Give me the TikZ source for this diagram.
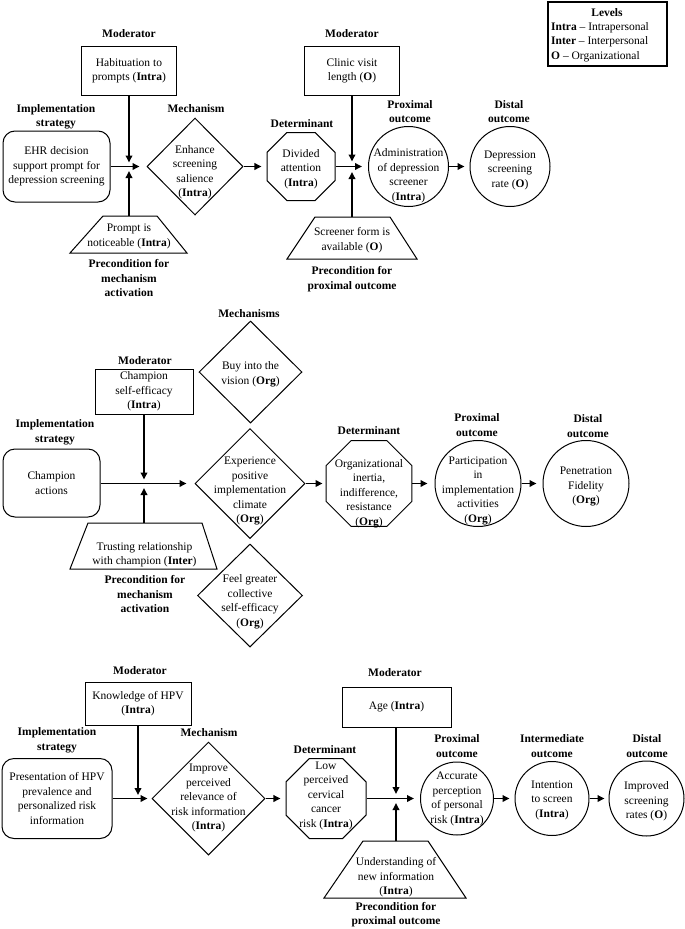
\documentclass[tikz,border=0pt]{standalone}
\usepackage{fontspec}
\setmainfont{Liberation Serif}
\usetikzlibrary{arrows.meta,shapes.geometric}
\begin{document}
\begin{tikzpicture}[x=1pt,y=-1pt,
  every node/.style={font=\fontsize{11.5}{14.5}\selectfont},
  lbl/.style={font=\fontsize{11.5}{14.5}\selectfont\bfseries,align=center,inner sep=0pt},
  txt/.style={align=center,inner sep=0pt},
  shp/.style={draw,line width=1pt},
  rbox/.style={shp,rectangle,align=center,inner sep=0pt},
  sbox/.style={shp,rectangle,rounded corners=12pt,align=center,inner sep=0pt},
  dia/.style={shp,diamond,inner sep=0pt},
  oct/.style={shp,regular polygon,regular polygon sides=8,inner sep=0pt},
  circ/.style={shp,circle,inner sep=0pt},
  arr/.style={line width=1.8pt,-{Triangle[length=7pt,width=6.5pt]}}
]
\useasboundingbox (0,0) rectangle (685,929);

% ---------------- Legend ----------------
\node[draw,line width=2pt,minimum width=119pt,minimum height=64pt,inner sep=0pt] (leg) at (607.5,34) {};
\node[lbl] (legt) at (607,13) {Levels};
\node[anchor=west,inner sep=0pt] (leg1) at (551,27.5) {\textbf{Intra} – Intrapersonal};
\node[anchor=west,inner sep=0pt] (leg2) at (551,42) {\textbf{Inter} – Interpersonal};
\node[anchor=west,inner sep=0pt] (leg3) at (551,56.5) {\textbf{O} – Organizational};

% ---------------- Panel 1 ----------------
\node[lbl] (l1a) at (129,34) {Moderator};
\node[rbox,minimum width=95pt,minimum height=49pt] (m1) at (129,70.5) {Habituation to\\prompts (\textbf{Intra})};
\node[lbl] (l1b) at (56,117) {Implementation\\strategy};
\node[sbox,minimum width=107pt,minimum height=71pt] (s1) at (56.5,166.5) {EHR decision\\support prompt for\\depression screening};
\node[lbl] (l1c) at (196,109) {Mechanism};
\node[dia,minimum width=96pt,minimum height=97pt] (d1) at (195,166.5) {};
\node[txt] (d1t) at (195,172) {Enhance\\screening\\salience\\(\textbf{Intra})};
\node[lbl] (l1d) at (302,124) {Determinant};
\node[oct,minimum size=73.6pt] (o1) at (301,166.5) {};
\node[txt] (o1t) at (301,169) {Divided\\attention\\(\textbf{Intra})};
\node[lbl] (l1e) at (352,34) {Moderator};
\node[rbox,minimum width=95pt,minimum height=49pt] (m2) at (352,70.5) {Clinic visit\\length (\textbf{O})};
\node[lbl] (l1f) at (410,111.5) {Proximal\\outcome};
\node[circ,minimum size=80pt] (c1) at (408.5,166.5) {};
\node[txt] (c1t) at (408.5,175.5) {Administration\\of depression\\screener\\(\textbf{Intra})};
\node[lbl] (l1g) at (509,111.5) {Distal\\outcome};
\node[circ,minimum size=80pt] (c2) at (510,166.5) {};
\node[txt] (c2t) at (510,170) {Depression\\screening\\rate (\textbf{O})};
% preconditions
\draw[shp] (103,216) -- (157,216) -- (187,253) -- (70,253) -- cycle;
\node[txt] (t1) at (129,236.5) {Prompt is\\noticeable (\textbf{Intra})};
\coordinate (t1top) at (129,216);
\node[lbl] (l1h) at (129,278.5) {Precondition for\\mechanism\\activation};
\draw[shp] (315,217) -- (390,217) -- (417,259) -- (287,259) -- cycle;
\node[txt] (t2) at (352,240) {Screener form is\\available (\textbf{O})};
\coordinate (t2top) at (352,217);
\node[lbl] (l1i) at (352,279) {Precondition for\\proximal outcome};
% connectors
\coordinate (j1a) at (129,162.5);
\coordinate (j1b) at (129,171);
\coordinate (j2a) at (352,161.5);
\coordinate (j2b) at (352,172);
\draw[arr,shorten >=7pt] (s1.east) -- (d1.west);
\draw[arr] (m1.south) -- (j1a);
\draw[arr] (t1top) -- (j1b);
\draw[arr,shorten >=5pt] (d1.east) -- (o1.west);
\draw[arr,shorten >=6pt] (o1.east) -- (c1.west);
\draw[arr] (m2.south) -- (j2a);
\draw[arr] (t2top) -- (j2b);
\draw[arr,shorten >=5pt] (c1.east) -- (c2.west);

% ---------------- Panel 2 ----------------
\node[lbl] (l2a) at (249,314) {Mechanisms};
\node[dia,minimum width=103pt,minimum height=102pt] (d2a) at (250.5,372) {};
\node[txt] (d2at) at (250.5,374.5) {Buy into the\\vision (\textbf{Org})};
\node[lbl] (l2b) at (145,361) {Moderator};
\node[rbox,minimum width=98pt,minimum height=45pt] (m3) at (144,391.5) {Champion\\self-efficacy\\(\textbf{Intra})};
\node[lbl] (l2c) at (55,432.5) {Implementation\\strategy};
\node[sbox,minimum width=97pt,minimum height=68pt] (s2) at (51.5,483) {Champion\\actions};
\node[dia,minimum width=110pt,minimum height=110pt] (d2b) at (250,483.5) {};
\node[txt] (d2bt) at (250,491) {Experience\\positive\\implementation\\climate\\(\textbf{Org})};
\node[dia,minimum width=105pt,minimum height=103pt] (d2c) at (250,595.5) {};
\node[txt] (d2ct) at (250,602) {Feel greater\\collective\\self-efficacy\\(\textbf{Org})};
\draw[shp] (88,523) -- (202,523) -- (217,569) -- (70,569) -- cycle;
\node[txt] (t3) at (144.5,554.5) {Trusting relationship\\with champion (\textbf{Inter})};
\coordinate (t3top) at (144,523);
\node[lbl] (l2d) at (145,594) {Precondition for\\mechanism\\activation};
\node[lbl] (l2e) at (369,431) {Determinant};
\node[oct,minimum size=93pt] (o2) at (369,483.5) {};
\node[txt] (o2t) at (369,493.5) {Organizational\\inertia,\\indifference,\\resistance\\(\textbf{Org})};
\node[lbl] (l2f) at (477,425) {Proximal\\outcome};
\node[circ,minimum size=86pt] (c3) at (478,483.5) {};
\node[txt] (c3t) at (478,490.5) {Participation\\in\\implementation\\activities\\(\textbf{Org})};
\node[lbl] (l2g) at (588,426) {Distal\\outcome};
\node[circ,minimum size=86pt] (c4) at (586,483.5) {};
\node[txt] (c4t) at (586,486.5) {Penetration\\Fidelity\\(\textbf{Org})};
\coordinate (j3a) at (144,479.5);
\coordinate (j3b) at (144,488);
\draw[arr,shorten >=8pt] (s2.east |- d2b.west) -- (d2b.west);
\draw[arr] (m3.south) -- (j3a);
\draw[arr] (t3top) -- (j3b);
\draw[arr,shorten >=3pt] (d2b.east) -- (o2.west);
\draw[arr,shorten >=7pt] (o2.east) -- (c3.west);
\draw[arr,shorten >=6pt] (c3.east) -- (c4.west);

% ---------------- Panel 3 ----------------
\node[lbl] (l3a) at (140,671) {Moderator};
\node[rbox,minimum width=106pt,minimum height=43pt] (m4) at (138,703.5) {Knowledge of HPV\\(\textbf{Intra})};
\node[lbl] (l3b) at (57,740.5) {Implementation\\strategy};
\node[sbox,minimum width=110pt,minimum height=80pt] (s3) at (57,798.5) {Presentation of HPV\\prevalence and\\personalized risk\\information};
\node[lbl] (l3c) at (209,733) {Mechanism};
\node[dia,minimum width=113pt,minimum height=113pt] (d3) at (208.5,798.5) {};
\node[txt] (d3t) at (208.5,798) {Improve\\perceived\\relevance of\\risk information\\(\textbf{Intra})};
\node[lbl] (l3d) at (325,750) {Determinant};
\node[oct,minimum size=86.6pt] (o3) at (326,798.5) {};
\node[txt] (o3t) at (326,795.5) {Low\\perceived\\cervical\\cancer\\risk (\textbf{Intra})};
\node[lbl] (l3e) at (395,673) {Moderator};
\node[rbox,minimum width=109pt,minimum height=40pt] (m5) at (396.5,707) {Age (\textbf{Intra})};
\draw[shp] (363,841) -- (428,841) -- (466,898) -- (324,898) -- cycle;
\node[txt] (t4) at (396,877.5) {Understanding of\\new information\\(\textbf{Intra})};
\coordinate (t4top) at (396,841);
\node[lbl] (l3f) at (396,914.5) {Precondition for\\proximal outcome};
\node[lbl] (l3g) at (457,746) {Proximal\\outcome};
\node[circ,minimum size=73pt] (c5) at (457,798.5) {};
\node[txt] (c5t) at (457,799) {Accurate\\perception\\of personal\\risk (\textbf{Intra})};
\node[lbl] (l3h) at (552,746) {Intermediate\\outcome};
\node[circ,minimum size=74pt] (c6) at (552,798.5) {};
\node[txt] (c6t) at (552,800) {Intention\\to screen\\(\textbf{Intra})};
\node[lbl] (l3i) at (647,746) {Distal\\outcome};
\node[circ,minimum size=75pt] (c7) at (646.5,798.5) {};
\node[txt] (c7t) at (646.5,801.5) {Improved\\screening\\rates (\textbf{O})};
\coordinate (j4a) at (138,795);
\coordinate (j5a) at (396,794);
\coordinate (j5b) at (396,803);
\draw[arr,shorten >=4pt] (s3.east) -- (d3.west);
\draw[arr] (m4.south) -- (j4a);
\draw[arr,shorten >=5pt] (d3.east) -- (o3.west);
\draw[arr,shorten >=6pt] (o3.east) -- (c5.west);
\draw[arr] (m5.south -| j5a) -- (j5a);
\draw[arr] (t4top) -- (j5b);
\draw[arr,shorten >=5pt] (c5.east) -- (c6.west);
\draw[arr,shorten >=4pt] (c6.east) -- (c7.west);
\end{tikzpicture}
\end{document}
